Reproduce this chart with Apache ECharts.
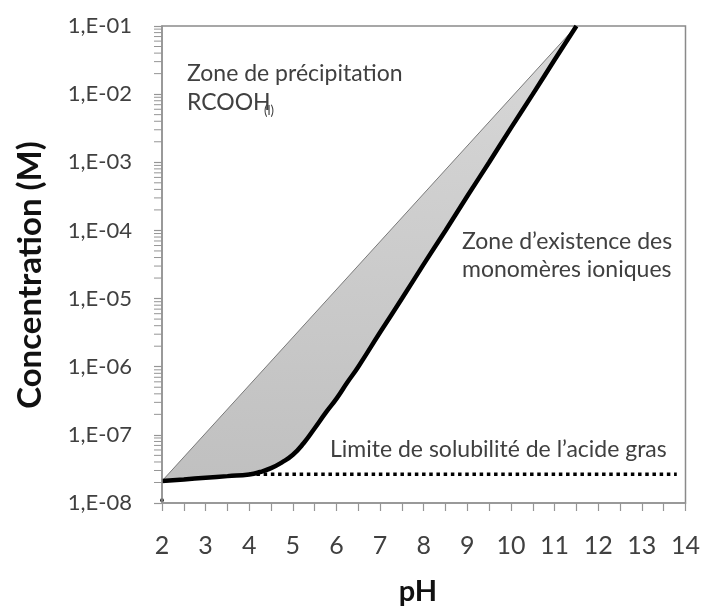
<!DOCTYPE html>
<html>
<head>
<meta charset="utf-8">
<script src="https://cdn.jsdelivr.net/npm/echarts@6/dist/echarts.min.js"></script>
<style>
  html, body { margin: 0; padding: 0; background: #fff; }
  #chart { width: 703px; height: 609px; }
</style>
</head>
<body>
<div id="chart"></div>
<script>
// pH values and concentrations (M)
const upperPH = [2, 11.5];
const upperConc = [2.1e-8, 1.0e-1];

const lowerPH = [2, 2.5, 3, 3.5, 4, 4.25, 4.5, 4.75, 5, 5.25, 5.5, 5.75, 6, 6.25, 6.5,
                 7, 7.5, 8, 8.5, 9, 9.5, 10, 10.5, 11, 11.5];
const lowerConc = [2.1e-8, 2.22e-8, 2.35e-8, 2.48e-8, 2.62e-8, 2.85e-8, 3.25e-8, 3.95e-8, 5.1e-8, 7.6e-8,
                   1.25e-7, 2.1e-7, 3.4e-7, 5.9e-7, 1.0e-6,
                   3.2e-6, 1.0e-5, 3.2e-5, 1.0e-4, 3.2e-4, 1.0e-3, 3.2e-3, 1.0e-2, 3.2e-2, 1.0e-1];

const limitPH = [4, 13.8];
const limitConc = [2.65e-8, 2.65e-8];

const markerPH = [2];
const markerConc = [1.1e-8];

const yTickLabels = ['1,E-08', '1,E-07', '1,E-06', '1,E-05', '1,E-04', '1,E-03', '1,E-02', '1,E-01'];

// log minor ticks 2..9 x 10^n
const minorTickValues = [];
for (let n = -8; n <= -2; n++) {
    for (let k = 2; k <= 9; k++) minorTickValues.push(k * Math.pow(10, n));
}

const font = 'Lato';
const axisGray = '#959595';
const textGray = '#404040';
const noteFont = '23px Lato';

const zip = (xs, ys) => xs.map((x, i) => [x, ys[i]]);

const chart = echarts.init(document.getElementById('chart'));
chart.setOption({
    animation: false,
    grid: {
        left: 162, right: 17, top: 26, bottom: 106,
        show: true, borderColor: '#8a8a8a', borderWidth: 1.5
    },
    xAxis: {
        type: 'value', min: 2, max: 14, interval: 1, z: 10,
        axisLine: { show: true, lineStyle: { color: axisGray, width: 1.5 } },
        axisTick: { show: true, length: 8, lineStyle: { color: axisGray, width: 1.2 } },
        minorTick: { show: true, splitNumber: 2, length: 8, lineStyle: { color: axisGray, width: 1.2 } },
        splitLine: { show: false },
        axisLabel: { fontSize: 25, color: textGray, fontFamily: font, margin: 30 }
    },
    yAxis: {
        type: 'log', logBase: 10, min: 1e-8, max: 1e-1, interval: 1, z: 10,
        axisLine: { show: true, lineStyle: { color: axisGray, width: 1.5 } },
        axisTick: { show: true, length: 8, lineStyle: { color: axisGray, width: 1.2 } },
        splitLine: { show: false },
        axisLabel: {
            fontSize: 22, color: textGray, fontFamily: font, margin: 30,
            formatter: v => yTickLabels[Math.round(Math.log10(v)) + 8]
        }
    },
    series: [
        {
            // grey band between the two boundaries
            name: 'zone',
            type: 'custom',
            silent: true,
            z: 1,
            data: [[upperPH[0], upperConc[0]]],
            renderItem: (params, api) => {
                const pts = zip(upperPH, upperConc).map(d => api.coord(d));
                const low = zip(lowerPH, lowerConc).map(d => api.coord(d)).reverse();
                return {
                    type: 'polygon',
                    shape: { points: pts.concat(low) },
                    style: {
                        fill: new echarts.graphic.LinearGradient(0, 0, 0, 1, [
                            { offset: 0, color: '#d8d8d8' },
                            { offset: 1, color: '#c0c0c0' }
                        ]),
                        stroke: null
                    }
                };
            }
        },
        {
            name: 'precipitation',
            type: 'line',
            data: zip(upperPH, upperConc),
            symbol: 'none',
            lineStyle: { color: '#7a7a7a', width: 1 }
        },
        {
            name: 'monomeres',
            type: 'line',
            data: zip(lowerPH, lowerConc),
            symbol: 'none',
            smooth: 0.5,
            lineStyle: { color: '#000', width: 4.5 }
        },
        {
            name: 'limite',
            type: 'line',
            data: zip(limitPH, limitConc),
            symbol: 'none',
            lineStyle: { color: '#000', width: 3.5, type: [3.5, 3.7], cap: 'butt' },
            z: 3
        },
        {
            name: 'marker',
            type: 'scatter',
            data: zip(markerPH, markerConc),
            symbol: 'circle',
            symbolSize: 4,
            itemStyle: { color: '#000' },
            z: 3
        },
        {
            name: 'minorTicks',
            type: 'custom',
            clip: false,
            silent: true,
            z: 11,
            data: minorTickValues.map(v => [2, v]),
            renderItem: (params, api) => {
                const p = api.coord([api.value(0), api.value(1)]);
                return {
                    type: 'line',
                    shape: { x1: p[0] - 8, y1: p[1], x2: p[0], y2: p[1] },
                    style: { stroke: axisGray, lineWidth: 1 }
                };
            }
        }
    ],
    graphic: [
        { type: 'text', z: 100, left: 187, top: 62, style: { text: 'Zone de précipitation', font: noteFont, fill: textGray } },
        { type: 'text', z: 100, left: 187, top: 91, style: { text: 'RCOOH', font: noteFont, fill: textGray } },
        { type: 'text', z: 100, left: 264, top: 104, style: { text: '(l)', font: '13px Lato', fill: textGray } },
        { type: 'text', z: 100, left: 462, top: 230, style: { text: 'Zone d’existence des', font: noteFont, fill: textGray } },
        { type: 'text', z: 100, left: 462, top: 258, style: { text: 'monomères ioniques', font: noteFont, fill: textGray } },
        { type: 'text', z: 100, left: 330, top: 438, style: { text: 'Limite de solubilité de l’acide gras', font: noteFont, fill: textGray } },
        {
            type: 'text', z: 100, x: 30, y: 275, rotation: Math.PI / 2,
            style: { text: 'Concentration (M)', font: 'bold 33px Lato', fill: '#111', align: 'center', verticalAlign: 'middle' }
        },
        {
            type: 'text', z: 100, x: 418, y: 592,
            style: { text: 'pH', font: 'bold 29px Lato', fill: '#111', align: 'center', verticalAlign: 'middle' }
        }
    ]
});
</script>
</body>
</html>
